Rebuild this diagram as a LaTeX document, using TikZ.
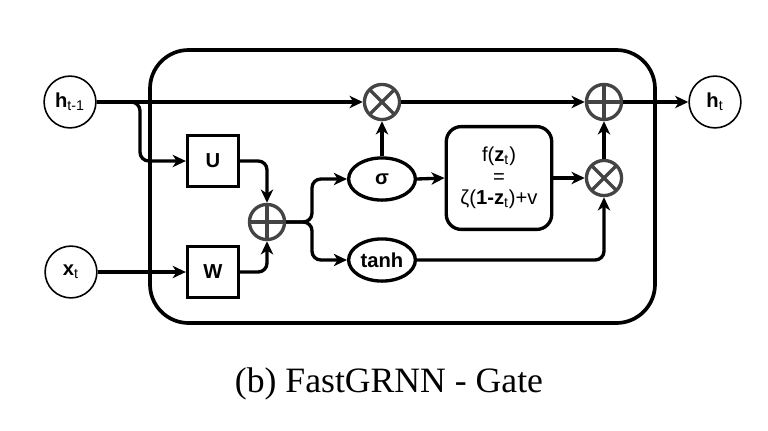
\documentclass[tikz,border=0pt]{standalone}
\usepackage{fontspec}
\setmainfont{Liberation Sans}
\newfontfamily\capfont{Liberation Serif}
\usetikzlibrary{arrows.meta,shapes.geometric}
\definecolor{opgray}{HTML}{444444}

\begin{document}
\begin{tikzpicture}[x=0.02cm,y=-0.02cm,
    state/.style={draw,circle,line width=0.9pt,minimum size=29.5pt,inner sep=0pt,font=\fontsize{11.5}{13}\selectfont},
    wbox/.style={draw,line width=1.9pt,minimum size=29pt,inner sep=0pt,font=\bfseries\fontsize{11.5}{13}\selectfont},
    act/.style={draw,ellipse,line width=1.9pt,minimum width=38pt,minimum height=24pt,inner sep=0pt,font=\bfseries\fontsize{11.5}{13}\selectfont},
    op/.style={draw=opgray,circle,line width=1.9pt,minimum size=20pt,inner sep=0pt},
    opmul/.style={op,path picture={\draw[opgray,line width=1.9pt] (path picture bounding box.north west) -- (path picture bounding box.south east) (path picture bounding box.north east) -- (path picture bounding box.south west);}},
    opadd/.style={op,path picture={\draw[opgray,line width=1.9pt] (path picture bounding box.north) -- (path picture bounding box.south) (path picture bounding box.west) -- (path picture bounding box.east);}},
    arr/.style={line width=1.9pt,-{Stealth[length=7.5pt,width=7pt,inset=2.2pt]},rounded corners=5pt}]
                \useasboundingbox (0,0) rectangle (768,430);
                \draw[line width=2.1pt,rounded corners=22pt] (150,50) rectangle (655,323);

                \node[state] (hprev) at (70,102) {\textbf{h}\textsubscript{t-1}};
                \node[state] (xt) at (71,272) {\textbf{x}\textsubscript{t}};
                \node[state] (ht) at (715,102) {\textbf{h}\textsubscript{t}};
                \node[wbox] (U) at (213,161) {U};
                \node[wbox] (W) at (213,272) {W};
                \node[opadd] (sum) at (267,222) {};
                \node[act] (sig) at (382,179) {σ};
                \node[act] (tanh) at (382,260) {tanh};
                \node[opmul] (gate) at (382,102) {};
                \node[draw,line width=1.9pt,rounded corners=8.5pt,minimum width=60pt,minimum height=58.5pt,align=center,font=\fontsize{11.5}{12.2}\selectfont] (fz) at (499,178) {f(\textbf{z}\textsubscript{t})\\=\\ζ(\textbf{1-z}\textsubscript{t})+v};
                \node[opmul] (mix) at (604,178) {};
                \node[opadd] (out) at (604,102) {};

                \coordinate (tap) at (140,102);
                \coordinate (split) at (312,222);
                \draw[arr] (hprev.east) -- (gate.west);
                \draw[arr] (hprev.east) -- (tap) |- (U.west);
                \draw[arr] (U.east) -| (sum.north);
                \draw[arr] (xt.east) -- (W.west);
                \draw[arr] (W.east) -| (sum.south);
                \draw[arr] (sum.east) -- (split) |- (sig.west);
                \draw[arr] (sum.east) -- (split) |- (tanh.west);
                \draw[arr] (sig.north) -- (gate.south);
                \draw[arr] (gate.east) -- (out.west);
                \draw[arr] (sig.east) -- (fz.west);
                \draw[arr] (fz.east) -- (mix.west);
                \draw[arr] (tanh.east) -| (mix.south);
                \draw[arr] (mix.north) -- (out.south);
                \draw[arr] (out.east) -- (ht.west);

                \node[font=\capfont\fontsize{20.3}{24}\selectfont] (cap) at (389,384) {(b) FastGRNN - Gate};
\end{tikzpicture}
\end{document}
